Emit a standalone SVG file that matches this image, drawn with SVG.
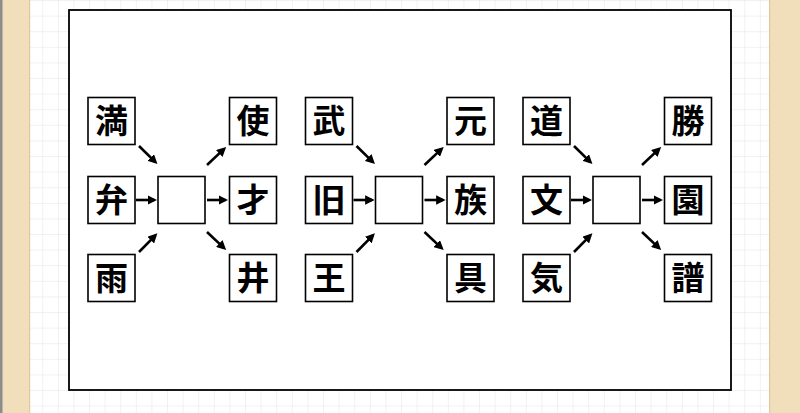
<svg xmlns="http://www.w3.org/2000/svg" width="800" height="413" viewBox="0 0 800 413">
<style>
.box{fill:#fff;stroke:#000;stroke-width:1.6}
.t{font-family:"Noto Sans CJK JP","Noto Sans CJK SC",sans-serif;font-weight:bold;font-size:33px;fill:#000;text-anchor:middle}
.a{stroke:#000;stroke-width:2.6;fill:none;marker-end:url(#ah)}
</style>
<defs>
<pattern id="grid" width="15.6" height="15.6" patternUnits="userSpaceOnUse" x="12" y="1">
<path d="M15.6 0V15.6M0 15.6H15.6" fill="none" stroke="#e4e4e4" stroke-width="1"/>
</pattern>
<marker id="ah" viewBox="0 0 10 10" refX="7" refY="5" markerWidth="9.5" markerHeight="9.5" markerUnits="userSpaceOnUse" orient="auto">
<path d="M0 0L10 5L0 10z" fill="#000"/>
</marker>
</defs>
<rect x="0" y="0" width="800" height="413" fill="#fff"/>
<rect x="30" y="0" width="740" height="413" fill="url(#grid)"/>
<rect x="0" y="0" width="30" height="413" fill="#f0dfba"/>
<rect x="0" y="0" width="2.5" height="413" fill="#8c8c8c"/>
<rect x="29" y="0" width="1.2" height="413" fill="#e2c89e"/>
<rect x="769" y="0" width="31" height="413" fill="#f0dfba"/>
<rect x="769" y="0" width="1.2" height="413" fill="#e2c89e"/>
<rect x="69" y="10" width="662" height="380" fill="#fff" stroke="#000" stroke-width="1.8"/>

<g id="connectors">
<g id="c1">
<line class="a" x1="139" y1="146" x2="155.4" y2="162.1"/>
<line class="a" x1="136" y1="200" x2="154.3" y2="200"/>
<line class="a" x1="139" y1="252" x2="155.4" y2="235.4"/>
<line class="a" x1="207" y1="165" x2="224.1" y2="148.9"/>
<line class="a" x1="207" y1="200" x2="225.3" y2="200"/>
<line class="a" x1="207" y1="232" x2="224.1" y2="248.1"/>
</g>
<g id="c2" transform="translate(217.5,0)">
<line class="a" x1="139" y1="146" x2="155.4" y2="162.1"/>
<line class="a" x1="136" y1="200" x2="154.3" y2="200"/>
<line class="a" x1="139" y1="252" x2="155.4" y2="235.4"/>
<line class="a" x1="207" y1="165" x2="224.1" y2="148.9"/>
<line class="a" x1="207" y1="200" x2="225.3" y2="200"/>
<line class="a" x1="207" y1="232" x2="224.1" y2="248.1"/>
</g>
<g id="c3" transform="translate(435,0)">
<line class="a" x1="139" y1="146" x2="155.4" y2="162.1"/>
<line class="a" x1="136" y1="200" x2="154.3" y2="200"/>
<line class="a" x1="139" y1="252" x2="155.4" y2="235.4"/>
<line class="a" x1="207" y1="165" x2="224.1" y2="148.9"/>
<line class="a" x1="207" y1="200" x2="225.3" y2="200"/>
<line class="a" x1="207" y1="232" x2="224.1" y2="248.1"/>
</g>
</g>

<g id="n1a"><rect class="box" x="88" y="97.5" width="47" height="47"/><text class="t" x="111.5" y="132.5">満</text></g>
<g id="n1b"><rect class="box" x="88" y="176.5" width="47" height="47"/><text class="t" x="111.5" y="211.5">弁</text></g>
<g id="n1c"><rect class="box" x="88" y="254.5" width="47" height="47"/><text class="t" x="111.5" y="289.5">雨</text></g>
<g id="n1m"><rect class="box" x="158" y="176.5" width="47" height="47"/></g>
<g id="n1d"><rect class="box" x="229.5" y="97.5" width="47" height="47"/><text class="t" x="253" y="132.5">使</text></g>
<g id="n1e"><rect class="box" x="229.5" y="176.5" width="47" height="47"/><text class="t" x="253" y="211.5">才</text></g>
<g id="n1f"><rect class="box" x="229.5" y="254.5" width="47" height="47"/><text class="t" x="253" y="289.5">井</text></g>

<g id="n2a"><rect class="box" x="305.5" y="97.5" width="47" height="47"/><text class="t" x="329" y="132.5">武</text></g>
<g id="n2b"><rect class="box" x="305.5" y="176.5" width="47" height="47"/><text class="t" x="329" y="211.5">旧</text></g>
<g id="n2c"><rect class="box" x="305.5" y="254.5" width="47" height="47"/><text class="t" x="329" y="289.5">王</text></g>
<g id="n2m"><rect class="box" x="375.5" y="176.5" width="47" height="47"/></g>
<g id="n2d"><rect class="box" x="447" y="97.5" width="47" height="47"/><text class="t" x="470.5" y="132.5">元</text></g>
<g id="n2e"><rect class="box" x="447" y="176.5" width="47" height="47"/><text class="t" x="470.5" y="211.5">族</text></g>
<g id="n2f"><rect class="box" x="447" y="254.5" width="47" height="47"/><text class="t" x="470.5" y="289.5">具</text></g>

<g id="n3a"><rect class="box" x="523" y="97.5" width="47" height="47"/><text class="t" x="546.5" y="132.5">道</text></g>
<g id="n3b"><rect class="box" x="523" y="176.5" width="47" height="47"/><text class="t" x="546.5" y="211.5">文</text></g>
<g id="n3c"><rect class="box" x="523" y="254.5" width="47" height="47"/><text class="t" x="546.5" y="289.5">気</text></g>
<g id="n3m"><rect class="box" x="593" y="176.5" width="47" height="47"/></g>
<g id="n3d"><rect class="box" x="664.5" y="97.5" width="47" height="47"/><text class="t" x="688" y="132.5">勝</text></g>
<g id="n3e"><rect class="box" x="664.5" y="176.5" width="47" height="47"/><text class="t" x="688" y="211.5">園</text></g>
<g id="n3f"><rect class="box" x="664.5" y="254.5" width="47" height="47"/><text class="t" x="688" y="289.5">譜</text></g>
</svg>
